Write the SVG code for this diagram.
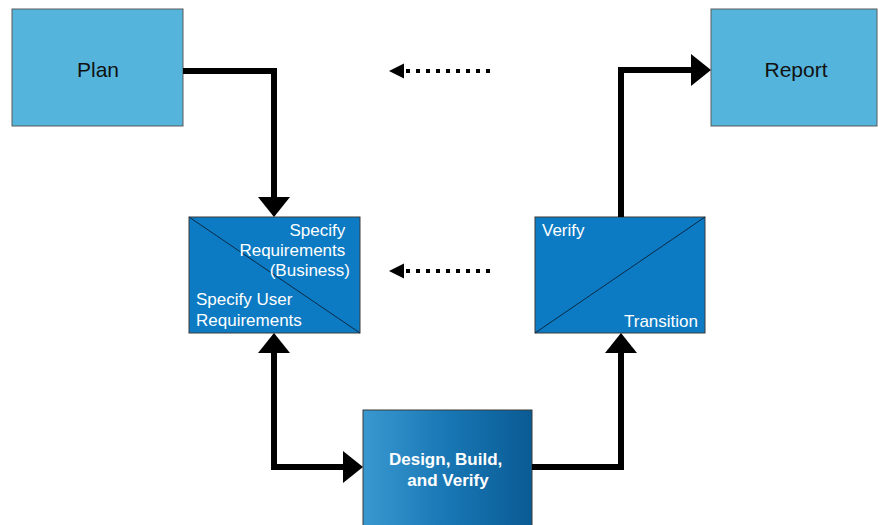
<svg xmlns="http://www.w3.org/2000/svg" width="878" height="525" viewBox="0 0 878 525">
  <defs>
    <linearGradient id="deepBlue" x1="0" y1="0" x2="1" y2="0">
      <stop offset="0" stop-color="#3a98d0"/>
      <stop offset="0.5" stop-color="#1877b4"/>
      <stop offset="1" stop-color="#0a5b94"/>
    </linearGradient>
    <marker id="head" markerUnits="userSpaceOnUse" markerWidth="20" markerHeight="32" refX="0" refY="16" orient="auto-start-reverse" overflow="visible">
      <path d="M0,0 L20,16 L0,32 Z" fill="#000"/>
    </marker>
    <marker id="smallHead" markerUnits="userSpaceOnUse" markerWidth="15" markerHeight="15" refX="0" refY="7.5" orient="auto" overflow="visible">
      <path d="M0,0 L15,7.5 L0,15 Z" fill="#000"/>
    </marker>
  </defs>
  <style>
    .light { fill: #55b4db; stroke: #5a5a5a; stroke-width: 1; }
    .mid { fill: #0c7bc3; stroke: #3a3a3a; stroke-width: 1; }
    .deep { fill: url(#deepBlue); stroke: #3a3a3a; stroke-width: 1; }
    .split { stroke: #0b2a44; stroke-width: 1; }
    .dark { font-family: "Liberation Sans", Arial, sans-serif; font-size: 21px; fill: #111; }
    .white { font-family: "Liberation Sans", Arial, sans-serif; font-size: 17px; fill: #ffffff; }
    .bold { font-weight: bold; }
    .link { fill: none; stroke: #000; stroke-width: 6; stroke-linejoin: miter; marker-end: url(#head); }
    .dots { fill: none; stroke: #000; stroke-width: 4; stroke-dasharray: 4 6; marker-end: url(#smallHead); }
  </style>
  <rect width="878" height="525" fill="#ffffff"/>

  <g id="plan">
    <rect class="light" x="12" y="9" width="171" height="117"/>
    <text class="dark" x="98" y="77" text-anchor="middle">Plan</text>
  </g>

  <g id="report">
    <rect class="light" x="711" y="9" width="166" height="117"/>
    <text class="dark" x="796" y="77" text-anchor="middle">Report</text>
  </g>

  <g id="specify">
    <rect class="mid" x="189" y="217" width="171" height="116"/>
    <line class="split" x1="189" y1="217" x2="360" y2="333"/>
    <text class="white" text-anchor="end">
      <tspan x="350" y="236">Specify</tspan>
      <tspan x="350" y="256">Requirements</tspan>
      <tspan x="350" y="276">(Business)</tspan>
    </text>
    <text class="white">
      <tspan x="196" y="305">Specify User</tspan>
      <tspan x="196" y="326">Requirements</tspan>
    </text>
  </g>

  <g id="verify">
    <rect class="mid" x="535" y="217" width="170" height="116"/>
    <line class="split" x1="535" y1="333" x2="705" y2="217"/>
    <text class="white" x="542" y="236">Verify</text>
    <text class="white" x="698" y="327" text-anchor="end">Transition</text>
  </g>

  <g id="design">
    <rect class="deep" x="363" y="410" width="169" height="120"/>
    <text class="white bold" text-anchor="middle">
      <tspan x="448" y="465">Design, Build,</tspan>
      <tspan x="448" y="486">and Verify</tspan>
    </text>
  </g>

  <g id="connectors">
    <path class="link" d="M183,71 H274 V197"/>
    <path class="link" d="M274,353 V467 H343" marker-start="url(#head)"/>
    <path class="link" d="M532,467 H621 V353"/>
    <path class="link" d="M621,217 V70 H691"/>
    <path class="dots" d="M490,71 H404"/>
    <path class="dots" d="M490,271 H404"/>
  </g>
</svg>
